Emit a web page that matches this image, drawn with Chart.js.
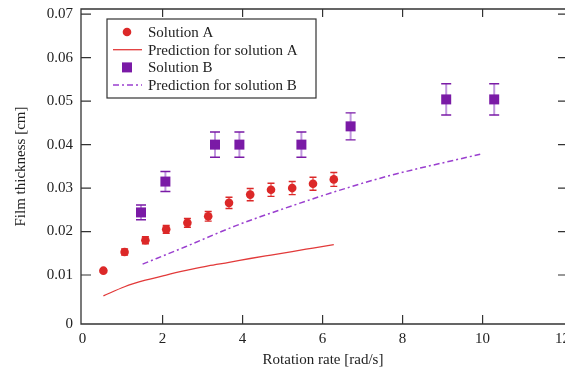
<!DOCTYPE html>
<html>
<head>
<meta charset="utf-8">
<script src="https://cdn.jsdelivr.net/npm/chart.js@4.4.1/dist/chart.umd.min.js"></script>
<style>
  html, body { margin: 0; padding: 0; background: #fff; overflow: hidden; }
</style>
</head>
<body>
<canvas id="c" width="565" height="376"></canvas>
<script>
// ---- data ----
const xA    = [0.52, 1.05, 1.57, 2.09, 2.62, 3.14, 3.66, 4.19, 4.71, 5.24, 5.76, 6.28];
const yA    = [0.0110, 0.0153, 0.0180, 0.0205, 0.0220, 0.0235, 0.0266, 0.0285, 0.0296, 0.0300, 0.0310, 0.0320];
const errA  = [0.0004, 0.0007, 0.0008, 0.0009, 0.0010, 0.0011, 0.0013, 0.0014, 0.0015, 0.0015, 0.0015, 0.0016];
const predAx = [0.52, 1.05, 1.57, 2.09, 2.62, 3.14, 3.66, 4.19, 4.71, 5.24, 5.76, 6.28];
const predAy = [0.0052, 0.0073, 0.0088, 0.0100, 0.0111, 0.0121, 0.0129, 0.0138, 0.0146, 0.0154, 0.0162, 0.0170];

const xB    = [1.46, 2.07, 3.31, 3.92, 5.47, 6.70, 9.09, 10.29];
const yB    = [0.0244, 0.0315, 0.0400, 0.0400, 0.0400, 0.0442, 0.0504, 0.0504];
const errB  = [0.0017, 0.0023, 0.0029, 0.0029, 0.0029, 0.0031, 0.0036, 0.0036];
const predBx = [1.50, 2.57, 3.82, 5.07, 6.32, 7.57, 9.94];
const predBy = [0.0125, 0.0165, 0.0213, 0.0254, 0.0292, 0.0326, 0.0378];

const seriesLabels = ['Solution A', 'Prediction for solution A', 'Solution B', 'Prediction for solution B'];
const xTicks = [0, 2, 4, 6, 8, 10, 12];
const xTickLabels = ['0', '2', '4', '6', '8', '10', '12'];
const yTicks = [0, 0.01, 0.02, 0.03, 0.04, 0.05, 0.06, 0.07];
const yTickLabels = ['0', '0.01', '0.02', '0.03', '0.04', '0.05', '0.06', '0.07'];
const xTitle = 'Rotation rate [rad/s]';
const yTitle = 'Film thickness [cm]';

// ---- styling ----
const FONT = "'Liberation Serif', 'Times New Roman', serif";
const TXT = '#222';
const RED = '#dc2828';
const RED_LINE = '#e23a3a';
const RED_LIGHT = 'rgba(226,60,60,0.55)';
const PUR = '#7a1aa6';
const PUR_LINE = '#9a3fcf';
const PUR_LIGHT = 'rgba(150,80,200,0.6)';
const DASHDOT = [6, 3, 2, 3];

const pts = (xs, ys) => xs.map((x, i) => ({ x: x, y: ys[i] }));

const frameAndTicks = {
  id: 'frameAndTicks',
  afterDraw(chart) {
    const { ctx, chartArea: a, scales } = chart;
    ctx.save();
    ctx.strokeStyle = '#333';
    ctx.lineWidth = 1.3;
    // right edge of the frame lies just outside the picture in the reference
    ctx.beginPath();
    ctx.moveTo(a.right + 2, a.top); ctx.lineTo(a.left, a.top);
    ctx.lineTo(a.left, a.bottom); ctx.lineTo(a.right + 2, a.bottom);
    ctx.stroke();
    ctx.lineWidth = 1.2;
    ctx.beginPath();
    scales.y.ticks.forEach((t, i) => {
      if (i === 0) return;
      const py = scales.y.getPixelForValue(t.value);
      ctx.moveTo(a.left, py); ctx.lineTo(a.left + 10, py);
      ctx.moveTo(a.right, py); ctx.lineTo(a.right - 7, py);
    });
    scales.x.ticks.forEach((t, i) => {
      if (i === 0 || i === scales.x.ticks.length - 1) return;
      const px = scales.x.getPixelForValue(t.value);
      ctx.moveTo(px, a.bottom); ctx.lineTo(px, a.bottom - 9);
      ctx.moveTo(px, a.top); ctx.lineTo(px, a.top + 8);
    });
    ctx.stroke();
    ctx.restore();
  }
};

const errorBars = {
  id: 'errorBars',
  beforeDatasetsDraw(chart) {
    const { ctx, scales } = chart;
    chart.data.datasets.forEach((ds, di) => {
      if (!ds.errors) return;
      const meta = chart.getDatasetMeta(di);
      ctx.save();
      meta.data.forEach((el, i) => {
        const v = ds.data[i].y, e = ds.errors[i];
        const yt = scales.y.getPixelForValue(v + e);
        const yb = scales.y.getPixelForValue(v - e);
        const x = el.x;
        ctx.strokeStyle = ds.errLight;
        ctx.lineWidth = 2;
        ctx.beginPath(); ctx.moveTo(x, yt); ctx.lineTo(x, yb); ctx.stroke();
        ctx.strokeStyle = ds.errColor;
        ctx.lineWidth = 1.4;
        const h = ds.capHalf;
        ctx.beginPath();
        ctx.moveTo(x - h, yt); ctx.lineTo(x + h, yt);
        ctx.moveTo(x - h, yb); ctx.lineTo(x + h, yb);
        ctx.stroke();
      });
      ctx.restore();
    });
  }
};

const boxLegend = {
  id: 'boxLegend',
  afterDraw(chart) {
    const { ctx, chartArea: a } = chart;
    const L = a.left + 26, T = a.top + 10, W = 209, H = 79;
    ctx.save();
    ctx.fillStyle = '#fff';
    ctx.fillRect(L, T, W, H);
    ctx.strokeStyle = '#333';
    ctx.lineWidth = 1.2;
    ctx.strokeRect(L, T, W, H);
    const symX = L + 20, textX = L + 41;
    chart.data.datasets.forEach((ds, i) => {
      const cy = T + 13 + i * 17.7;
      if (ds.showLine) {
        ctx.strokeStyle = ds.borderColor;
        ctx.lineWidth = ds.borderWidth;
        ctx.setLineDash(ds.borderDash || []);
        ctx.beginPath(); ctx.moveTo(symX - 14, cy); ctx.lineTo(symX + 15, cy); ctx.stroke();
        ctx.setLineDash([]);
      } else if (ds.pointStyle === 'rect') {
        ctx.fillStyle = ds.backgroundColor;
        ctx.fillRect(symX - 5, cy - 5, 10, 10);
      } else {
        ctx.fillStyle = ds.backgroundColor;
        ctx.beginPath(); ctx.arc(symX, cy, 4.3, 0, Math.PI * 2); ctx.fill();
      }
      ctx.fillStyle = TXT;
      ctx.font = '15px ' + FONT;
      ctx.textAlign = 'left';
      ctx.textBaseline = 'middle';
      ctx.fillText(ds.label, textX, cy + 1);
    });
    ctx.restore();
  }
};

new Chart(document.getElementById('c'), {
  type: 'scatter',
  data: {
    datasets: [
      { label: seriesLabels[0], data: pts(xA, yA), errors: errA, errColor: RED, errLight: RED_LIGHT, capHalf: 3.5,
        backgroundColor: RED, borderWidth: 0, pointRadius: 4.3, pointHoverRadius: 4.3, order: 0 },
      { label: seriesLabels[1], data: pts(predAx, predAy), showLine: true, borderColor: RED_LINE, borderWidth: 1.3,
        pointRadius: 0, cubicInterpolationMode: 'monotone', order: 2 },
      { label: seriesLabels[2], data: pts(xB, yB), errors: errB, errColor: PUR, errLight: PUR_LIGHT, capHalf: 5,
        backgroundColor: PUR, borderWidth: 0, pointStyle: 'rect', pointRadius: 7.07, pointHoverRadius: 7.07, order: 0 },
      { label: seriesLabels[3], data: pts(predBx, predBy), showLine: true, borderColor: PUR_LINE, borderWidth: 1.5,
        borderDash: DASHDOT, pointRadius: 0, cubicInterpolationMode: 'monotone', order: 2 }
    ]
  },
  options: {
    responsive: false,
    animation: false,
    devicePixelRatio: 1,
    layout: { autoPadding: false, padding: { left: 0, right: 0, top: 9, bottom: 0 } },
    plugins: { legend: { display: false }, tooltip: { enabled: false } },
    scales: {
      x: {
        type: 'linear', min: -0.04, max: 12.06,
        grid: { display: false, drawTicks: false },
        border: { display: false },
        afterBuildTicks: s => { s.ticks = xTicks.map(v => ({ value: v })); },
        // let the last label ("12") run off the picture edge, as in the reference
        afterFit: s => { s.height = 52; s.paddingRight = 0; s.paddingLeft = 0; },
        ticks: { autoSkip: false, maxRotation: 0, padding: 6, color: TXT,
                 font: { family: FONT, size: 15 }, callback: (v, i) => xTickLabels[i] },
        title: { display: true, text: xTitle, color: TXT, font: { family: FONT, size: 15 },
                 padding: { top: 0, bottom: 7 } }
      },
      y: {
        type: 'linear', min: -0.00127, max: 0.0712,
        grid: { display: false, drawTicks: false },
        border: { display: false },
        // the reference prints its "0" label on the (slightly offset) x axis line
        afterBuildTicks: s => { s.ticks = yTicks.map(v => ({ value: v === 0 ? s.min : v })); },
        afterFit: s => { s.width = 81; s.paddingTop = 0; s.paddingBottom = 0; },
        ticks: { padding: 8, color: TXT, font: { family: FONT, size: 15 },
                 callback: (v, i) => yTickLabels[i] },
        title: { display: true, text: yTitle, color: TXT, font: { family: FONT, size: 15 },
                 padding: { top: 12, bottom: 0 } }
      }
    }
  },
  plugins: [errorBars, frameAndTicks, boxLegend]
});
</script>
</body>
</html>
